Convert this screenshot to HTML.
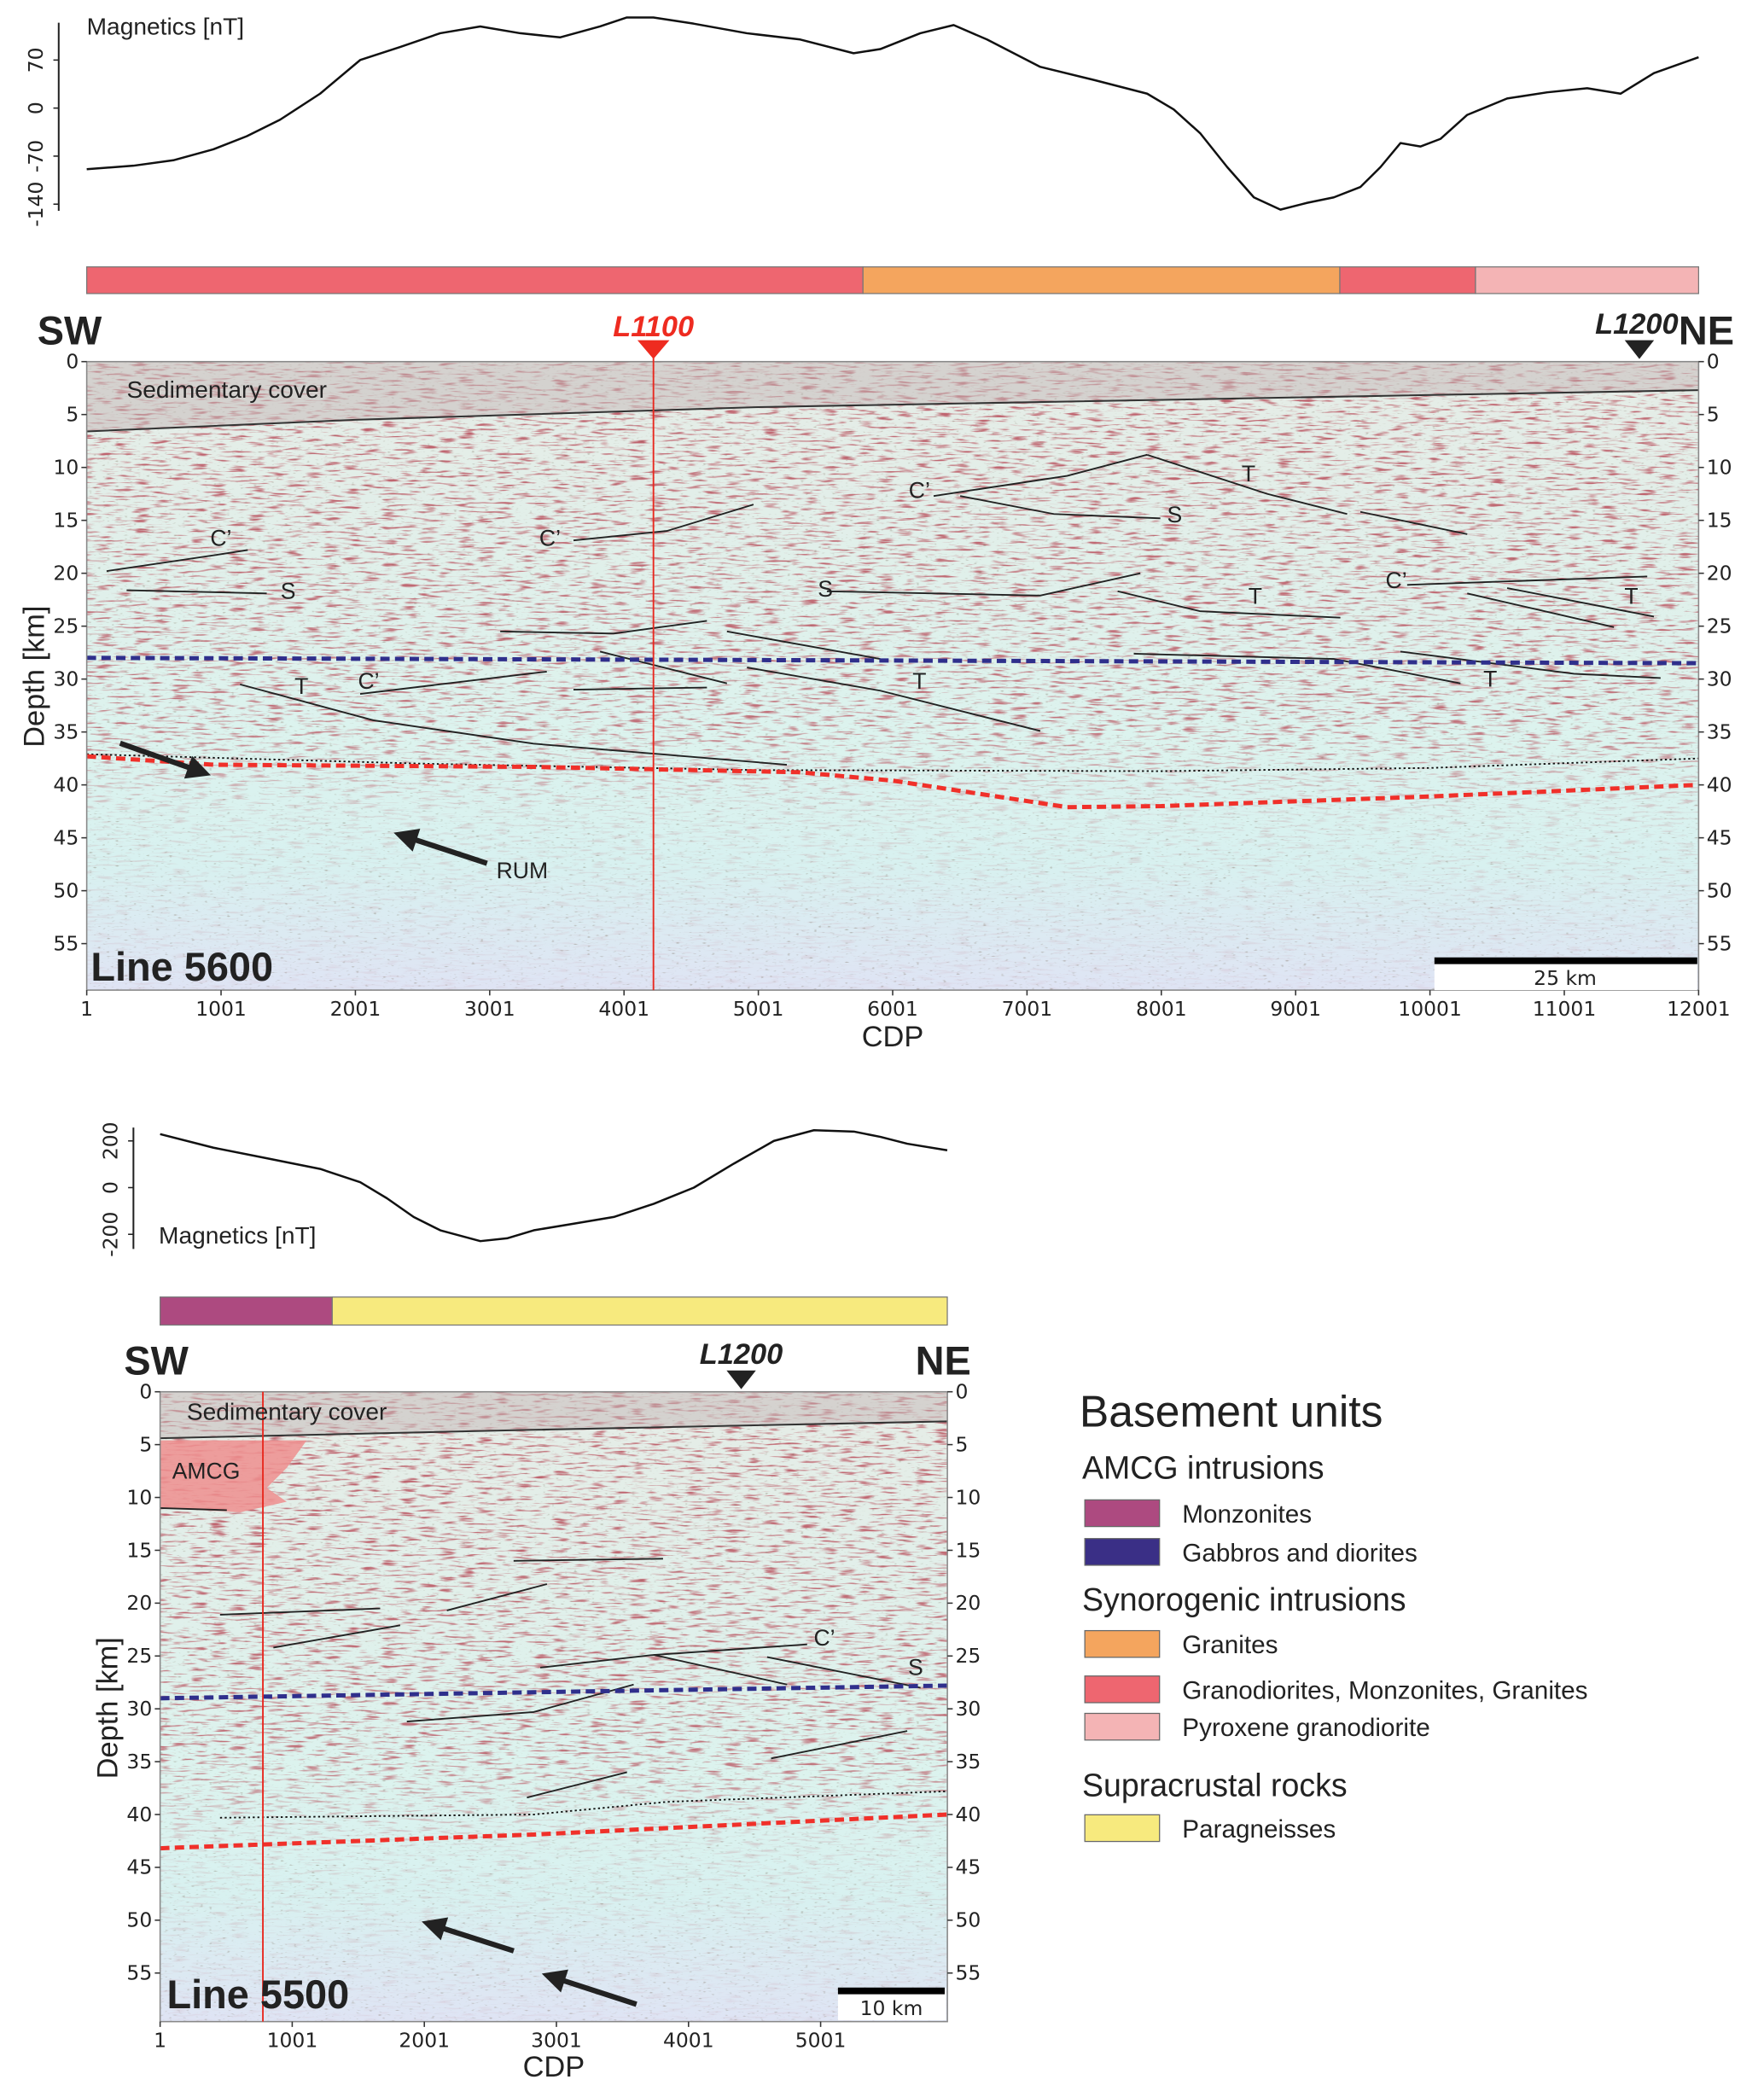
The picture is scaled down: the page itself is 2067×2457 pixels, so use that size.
<!DOCTYPE html>
<html><head><meta charset="utf-8"><style>
html,body{margin:0;padding:0;background:#fff;}
svg{display:block;}
text{font-family:"Liberation Sans","DejaVu Sans",sans-serif;fill:#222;}
.tk{font-family:"DejaVu Sans","Liberation Sans",sans-serif;font-size:15px;}
</style></head><body>
<svg id="fig" xmlns="http://www.w3.org/2000/svg" width="2067" height="2457" viewBox="0 0 1322 1571.5" preserveAspectRatio="none">
<defs>
<filter id="streak" x="0" y="0" width="1" height="1">
<feTurbulence type="fractalNoise" baseFrequency="0.07 0.6" numOctaves="2" seed="3"/>
<feColorMatrix type="matrix" values="0 0 0 0 0.5  0 0 0 0 0.1  0 0 0 0 0.13  4.2 0 0 0 -2.25"/>
</filter>
<filter id="speck" x="0" y="0" width="1" height="1">
<feTurbulence type="fractalNoise" baseFrequency="0.3 0.9" numOctaves="1" seed="7"/>
<feColorMatrix type="matrix" values="0 0 0 0 0.2  0 0 0 0 0.15  0 0 0 0 0.1  5 0 0 0 -3.2"/>
</filter>
<linearGradient id="g1" x1="0" y1="0" x2="0" y2="1">
<stop offset="0" stop-color="#fff" stop-opacity="0.95"/>
<stop offset="0.58" stop-color="#fff" stop-opacity="0.85"/>
<stop offset="0.72" stop-color="#fff" stop-opacity="0.2"/>
<stop offset="1" stop-color="#fff" stop-opacity="0.08"/>
</linearGradient>
<linearGradient id="bg" x1="0" y1="0" x2="0" y2="1">
<stop offset="0" stop-color="#e6ece6"/>
<stop offset="0.6" stop-color="#dcf3ee"/>
<stop offset="0.8" stop-color="#d8f1f0"/>
<stop offset="1" stop-color="#dfe4f4"/>
</linearGradient>
<mask id="m1" maskContentUnits="objectBoundingBox"><rect width="1" height="1" fill="url(#g1)"/></mask>
<clipPath id="c1"><rect x="65" y="271" width="1208" height="471"/></clipPath>
<clipPath id="c2"><rect x="120" y="1043" width="590" height="472"/></clipPath>
</defs>
<g id="root"></g>
</svg>
<script>
// ---- Line 5600 magnetics ----
const mag1Cdp=[1,348,646,944,1192,1440,1738,2036,2334,2632,2930,3227,3525,3823,4022,4220,4518,4915,5313,5710,5909,6207,6455,6703,7100,7498,7895,8093,8292,8491,8690,8888,9087,9285,9484,9633,9782,9930,10079,10278,10576,10874,11172,11420,11668,12001];
const mag1Val=[-89,-84,-76,-60,-41,-17,21,70,89,109,119,109,103,119,132,132,123,109,100,80,86,109,121,100,60,41,21,-2,-37,-86,-130,-148,-138,-130,-115,-86,-51,-56,-45,-10,14,23,29,21,51,74];
const mag1Ticks=[70,0,-70,-140];
// ---- Line 5500 magnetics ----
const mag2Cdp=[1,405,809,1213,1516,1718,1920,2122,2425,2627,2829,3132,3435,3738,4041,4344,4647,4950,5253,5455,5657,5960];
const mag2Val=[229,171,126,80,23,-46,-126,-183,-229,-217,-183,-154,-126,-69,0,103,200,246,240,217,188,160];
const mag2Ticks=[200,0,-200];
// ---- lithology bars ----
const bar1Units=["Granodiorites, Monzonites, Granites","Granites","Granodiorites, Monzonites, Granites","Pyroxene granodiorite"];
const bar1Start=[1,5780,9330,10340];
const bar1End=[5780,9330,10340,12001];
const bar2Units=["Monzonites","Paragneisses"];
const bar2Start=[1,1304];
const bar2End=[1304,5960];
const unitColors={"Monzonites":"#ad4a80","Gabbros and diorites":"#3a2f86","Granites":"#f4a55e","Granodiorites, Monzonites, Granites":"#ee6670","Pyroxene granodiorite":"#f4b4b5","Paragneisses":"#f7ea7e"};
// ---- depth ticks ----
const depthTicks=[0,5,10,15,20,25,30,35,40,45,50,55];
const cdp1Ticks=[1,1001,2001,3001,4001,5001,6001,7001,8001,9001,10001,11001,12001];
const cdp2Ticks=[1,1001,2001,3001,4001,5001];
// ---- interpreted horizons line 5600 (cdp, depth km) ----
const sed1=[[1,6.6],[2000,5.5],[5000,4.3],[12001,2.7]];
const blue1=[[1,28.0],[12001,28.5]];
const moho1=[[1,37.3],[950,38.1],[3327,38.3],[5300,38.8],[6000,39.6],[7300,42.1],[8000,42.0],[10000,41.1],[12001,40.0]];
const rum1=[[1,37.1],[2500,38.0],[5000,38.6],[8000,38.7],[10000,38.4],[12001,37.5]];
const faults1=[
[[149,19.8],[1000,18.2],[1200,17.8]],[[298,21.6],[1341,21.9]],
[[3625,16.9],[4320,16.0],[4965,13.5]],[[6306,12.7],[7299,10.8],[7895,8.8]],
[[7895,8.8],[8788,12.5],[9384,14.4]],[[9483,14.2],[10278,16.3]],
[[6504,12.7],[7200,14.4],[7994,14.8]],[[5511,21.7],[7100,22.1],[7845,20.0]],
[[7676,21.7],[8292,23.6],[9334,24.2]],[[9831,21.1],[11619,20.3]],
[[10278,21.9],[11370,25.1]],[[10576,21.4],[11668,24.1]],
[[3079,25.5],[3923,25.7],[4618,24.5]],[[4767,25.5],[5909,28.1]],
[[3823,27.4],[4767,30.4]],[[3625,31.0],[4618,30.8]],
[[2036,31.4],[3426,29.3]],[[4916,28.9],[5909,31.1],[7100,34.9]],
[[1142,30.5],[2135,33.9],[3327,36.1],[5213,38.1]],
[[7796,27.6],[9285,28.1],[10228,30.4]],[[9781,27.4],[11073,29.5],[11718,29.9]]];
const labels1=[["C’",1000,17.4],["S",1500,22.4],["C’",3450,17.4],["S",5500,22.2],["C’",6200,12.9],["T",8650,11.3],["S",8100,15.2],["T",8700,22.9],["C’",9750,21.4],["T",11500,22.9],["T",10450,30.7],["T",6200,30.9],["T",1600,31.4],["C’",2100,30.9]];
// ---- line 5500 ----
const sed2=[[1,4.4],[2829,3.6],[5960,2.8]];
const blue2=[[1,29.0],[5960,27.8]];
const moho2=[[1,43.2],[2829,41.9],[5960,40.0]];
const rum2=[[455,40.3],[2829,40.0],[3839,38.8],[5960,37.8]];
const faults2=[[[1,11.0],[506,11.2]],[[2677,16.0],[3808,15.8]],[[455,21.1],[1667,20.5]],[[859,24.2],[1818,22.1]],[[2172,20.7],[2929,18.2]],[[2879,26.1],[3737,24.9],[4899,23.9]],[[3737,24.9],[4747,27.7]],[[4596,25.1],[5758,28.0]],[[1869,31.2],[2829,30.3],[3586,27.7]],[[4626,34.7],[5657,32.1]],[[2778,38.4],[3535,36.0]]];
const amcg=[[1,4.6],[1111,4.6],[960,7.2],[808,9.1],[960,10.4],[606,11.4],[1,11.0]];

const NS="http://www.w3.org/2000/svg";
const root=document.getElementById('root');
function el(tag,attrs,parent,txt){const e=document.createElementNS(NS,tag);for(const k in attrs)e.setAttribute(k,attrs[k]);if(txt!==undefined)e.textContent=txt;(parent||root).appendChild(e);return e;}
const x1=c=>65+(c-1)*1208/12000, y1=d=>271+d*7.93;
const x2=c=>120+(c-1)*0.099, y2=d=>1043+d*7.92;
const m1y=v=>81-v*36/70, m2y=v=>890-v*35/200;
function pts(arr,fx,fy){return arr.map(p=>fx(p[0]).toFixed(1)+','+fy(p[1]).toFixed(1)).join(' ');}

// --- magnetics 1 ---
let g=el('g',{});


let ax=el('line',{x1:44,y1:17,x2:44,y2:158,stroke:'#222','stroke-width':1.3},g);


mag1Ticks.forEach(t=>{el('line',{x1:40,x2:44,y1:m1y(t),y2:m1y(t),stroke:'#222'},g);
 const tx=el('text',{class:'tk',transform:`translate(32,${m1y(t)}) rotate(-90)`,'text-anchor':'middle','font-size':15},g,String(t));
 
 });
let ml=el('text',{x:65,y:26,'font-size':18},g,'Magnetics [nT]');


let mline=el('polyline',{points:mag1Cdp.map((c,i)=>x1(c).toFixed(1)+','+m1y(mag1Val[i]).toFixed(1)).join(' '),fill:'none',stroke:'#111','stroke-width':1.6,'stroke-linejoin':'round'},g);



// --- bars ---
bar1Units.forEach((u,i)=>{const r=el('rect',{x:x1(bar1Start[i]),y:200,width:x1(bar1End[i])-x1(bar1Start[i]),height:20,fill:unitColors[u],stroke:'#777','stroke-width':0.8});
 
 });
bar2Units.forEach((u,i)=>{const r=el('rect',{x:x2(bar2Start[i]),y:972,width:x2(bar2End[i])-x2(bar2Start[i]),height:21,fill:unitColors[u],stroke:'#777','stroke-width':0.8});
 
 });

function section(X,Y,x0,yt,w,h,clip,opt){
 const s=el('g',{});
 
 
 const c=el('g',{'clip-path':`url(#${clip})`},s);
 el('rect',{x:x0,y:yt,width:w,height:h,fill:'url(#bg)'},c);
 el('rect',{x:x0,y:yt,width:w,height:h,filter:'url(#streak)',mask:'url(#m1)'},c);
 el('rect',{x:x0,y:yt,width:w,height:h,filter:'url(#speck)',opacity:0.45},c);
 const sed=opt.sed;
 const sp=el('polygon',{points:`${x0},${yt} ${x0+w},${yt} `+pts(sed.slice().reverse(),X,Y),fill:'#c4b8b8',opacity:0.5},c);
 
 
 el('polyline',{points:pts(sed,X,Y),fill:'none',stroke:'#333','stroke-width':1.3},c);
 if(opt.amcg){const a=el('polygon',{points:pts(opt.amcg,X,Y),fill:'#ee8e8e',opacity:0.85},c);
  
  }
 opt.faults.forEach(f=>{const l=el('polyline',{points:pts(f,X,Y),fill:'none',stroke:'#222','stroke-width':1.2},c);
  
  });
 const b=el('polyline',{points:pts(opt.blue,X,Y),fill:'none',stroke:'#2f2f8c','stroke-width':3.2,'stroke-dasharray':'7 4'},c);
 
 
 const r=el('polyline',{points:pts(opt.rum,X,Y),fill:'none',stroke:'#111','stroke-width':1.2,'stroke-dasharray':'1.5 2'},c);
 
 
 const m=el('polyline',{points:pts(opt.moho,X,Y),fill:'none',stroke:'#f0302a','stroke-width':3.2,'stroke-dasharray':'7 4'},c);
 
 
 el('rect',{x:x0,y:yt,width:w,height:h,fill:'none',stroke:'#888','stroke-width':1},s);
 depthTicks.forEach(d=>{const yy=Y(d);
  el('line',{x1:x0-4,x2:x0,y1:yy,y2:yy,stroke:'#333'},s);el('line',{x1:x0+w,x2:x0+w+4,y1:yy,y2:yy,stroke:'#333'},s);
  const a=el('text',{class:'tk',x:x0-6,y:yy+5,'text-anchor':'end'},s,String(d));
  
  
  const bb=el('text',{class:'tk',x:x0+w+6,y:yy+5},s,String(d));
  
  });
 opt.cdpTicks.forEach(t=>{const xx=X(t);el('line',{x1:xx,x2:xx,y1:yt+h,y2:yt+h+4,stroke:'#333'},s);
  const a=el('text',{class:'tk',x:xx,y:yt+h+19,'text-anchor':'middle'},s,String(t));
  
  });
 return s;
}
const s1=section(x1,y1,65,271,1208,471,'c1',{name:'section-line-5600',sed:sed1,blue:blue1,rum:rum1,moho:moho1,faults:faults1,cdpTicks:cdp1Ticks});
const s2=section(x2,y2,120,1043,590,472,'c2',{name:'section-line-5500',sed:sed2,blue:blue2,rum:rum2,moho:moho2,faults:faults2,cdpTicks:cdp2Ticks,amcg:amcg});

labels1.forEach(l=>{const t=el('text',{x:x1(l[1]),y:y1(l[2]),'font-size':17,'text-anchor':'middle'},s1,l[0]);
 
 });
function txt(x,y,s,attrs,name,parent){const t=el('text',Object.assign({x:x,y:y},attrs),parent,s);return t;}
txt(95,298,'Sedimentary cover',{'font-size':18},'sedimentary-cover-label',s1);
txt(68,735,'Line 5600',{'font-size':30,'font-weight':'bold'},'line-5600-label',s1);
txt(372,658,'RUM',{'font-size':17},'rum-label',s1);
txt(669,784,'CDP',{'font-size':22,'text-anchor':'middle'},'x-axis-title',s1);
txt(0,0,'Depth [km]',{'font-size':22,'text-anchor':'middle',transform:'translate(33,507) rotate(-90)'},'y-axis-title',s1);
txt(28,258,'SW',{'font-size':30,'font-weight':'bold'},'sw-label',s1);
txt(1258,258,'NE',{'font-size':30,'font-weight':'bold'},'ne-label',s1);
el('line',{x1:x1(4220),x2:x1(4220),y1:262,y2:742,stroke:'#e8281e','stroke-width':1.2},s1);
el('polygon',{points:`${x1(4220)-12},255 ${x1(4220)+12},255 ${x1(4220)},269`,fill:'#ee2b20'},s1);
txt(x1(4220),252,'L1100',{'font-size':22,'font-weight':'bold','font-style':'italic','text-anchor':'middle',style:'fill:#ee2b20'},'l1100-marker',s1);
el('polygon',{points:`${x1(11560)-11},255 ${x1(11560)+11},255 ${x1(11560)},269`,fill:'#222'},s1);
txt(x1(11560)-2,250,'L1200',{'font-size':22,'font-weight':'bold','font-style':'italic','text-anchor':'middle'},'l1200-marker',s1);
function arrow(xa,ya,xb,yb,p){const a=Math.atan2(yb-ya,xb-xa);const L=18,W=9;
 el('line',{x1:xa,y1:ya,x2:xb-Math.cos(a)*L*0.8,y2:yb-Math.sin(a)*L*0.8,stroke:'#222','stroke-width':4},p);
 el('polygon',{points:`${xb},${yb} ${xb-Math.cos(a)*L+Math.sin(a)*W},${yb-Math.sin(a)*L-Math.cos(a)*W} ${xb-Math.cos(a)*L-Math.sin(a)*W},${yb-Math.sin(a)*L+Math.cos(a)*W}`,fill:'#222'},p);}
arrow(90,557,158,581,s1);arrow(365,647,295,624,s1);
arrow(385,1462,316,1440,s2);arrow(477,1502,406,1479,s2);
el('rect',{x:1075,y:718,width:197,height:24,fill:'#fff'},s1);
el('line',{x1:1075,x2:1272,y1:720,y2:720,stroke:'#000','stroke-width':5},s1);
txt(1173,738,'25 km',{'font-size':14,'text-anchor':'middle',class:'tk'},'scale-bar-label',s1);
el('rect',{x:628,y:1490,width:81,height:24,fill:'#fff'},s2);
el('line',{x1:628,x2:708,y1:1492,y2:1492,stroke:'#000','stroke-width':5},s2);
txt(668,1510,'10 km',{'font-size':14,'text-anchor':'middle',class:'tk'},'scale-bar-label',s2);

el('line',{x1:x2(779),x2:x2(779),y1:1043,y2:1515,stroke:'#e8281e','stroke-width':1.2},s2);
txt(140,1064,'Sedimentary cover',{'font-size':18},'sedimentary-cover-label',s2);
txt(129,1108,'AMCG',{'font-size':17},'amcg-label',s2);
txt(x2(5030),y2(24.0),'C’',{'font-size':17,'text-anchor':'middle'},'fault-label',s2);
txt(x2(5720),y2(26.8),'S',{'font-size':17,'text-anchor':'middle'},'fault-label',s2);
txt(125,1505,'Line 5500',{'font-size':30,'font-weight':'bold'},'line-5500-label',s2);
txt(415,1556,'CDP',{'font-size':22,'text-anchor':'middle'},'x-axis-title',s2);
txt(0,0,'Depth [km]',{'font-size':22,'text-anchor':'middle',transform:'translate(88,1280) rotate(-90)'},'y-axis-title',s2);
txt(93,1030,'SW',{'font-size':30,'font-weight':'bold'},'sw-label',s2);
txt(686,1030,'NE',{'font-size':30,'font-weight':'bold'},'ne-label',s2);
el('polygon',{points:`${x2(4400)-11},1027 ${x2(4400)+11},1027 ${x2(4400)},1041`,fill:'#222'},s2);
txt(x2(4400),1022,'L1200',{'font-size':22,'font-weight':'bold','font-style':'italic','text-anchor':'middle'},'l1200-marker',s2);

let g2=el('g',{});


el('line',{x1:100,y1:845,x2:100,y2:936,stroke:'#222','stroke-width':1.3},g2);
mag2Ticks.forEach(t=>{el('line',{x1:96,x2:100,y1:m2y(t),y2:m2y(t),stroke:'#222'},g2);
 const tx=el('text',{class:'tk',transform:`translate(88,${m2y(t)}) rotate(-90)`,'text-anchor':'middle'},g2,String(t));
 
 });
txt(119,932,'Magnetics [nT]',{'font-size':18},'magnetics-title',g2);
let ml2=el('polyline',{points:mag2Cdp.map((c,i)=>x2(c).toFixed(1)+','+m2y(mag2Val[i]).toFixed(1)).join(' '),fill:'none',stroke:'#111','stroke-width':1.6,'stroke-linejoin':'round'},g2);



let lg=el('g',{});


txt(809,1069,'Basement units',{'font-size':33},'legend-title',lg);
const legHead=[['AMCG intrusions',1108],['Synorogenic intrusions',1207],['Supracrustal rocks',1346]];
legHead.forEach(h=>txt(811,h[1],h[0],{'font-size':24},'legend-group-title',lg));
const legItems=[['Monzonites',1124],['Gabbros and diorites',1153],['Granites',1222],['Granodiorites, Monzonites, Granites',1256],['Pyroxene granodiorite',1284],['Paragneisses',1360]];
legItems.forEach(it=>{const r=el('rect',{x:813,y:it[1],width:56,height:20,fill:unitColors[it[0]],stroke:'#666','stroke-width':0.8},lg);
 
 
 txt(886,it[1]+17,it[0],{'font-size':19},'legend-entry',lg);});
</script>
</body></html>
